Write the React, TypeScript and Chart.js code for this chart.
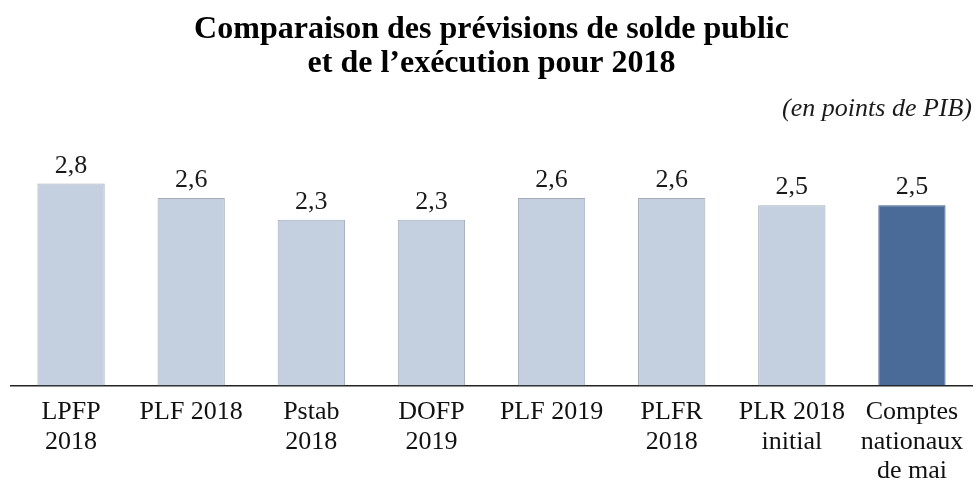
import React, { useEffect, useRef } from "react";
import { Chart, registerables } from "chart.js";

Chart.register(...registerables);

const categories: string[][] = [
  ["LPFP", "2018"],
  ["PLF 2018"],
  ["Pstab", "2018"],
  ["DOFP", "2019"],
  ["PLF 2019"],
  ["PLFR", "2018"],
  ["PLR 2018", "initial"],
  ["Comptes", "nationaux", "de mai"],
];
const values: number[] = [2.8, 2.6, 2.3, 2.3, 2.6, 2.6, 2.5, 2.5];
const valueLabels: string[] = ["2,8", "2,6", "2,3", "2,3", "2,6", "2,6", "2,5", "2,5"];
const titleLines: string[] = ["Comparaison des prévisions de solde public", "et de l’exécution pour 2018"];
const unitLabel = "(en points de PIB)";

const FONT = "'Liberation Serif', 'DejaVu Serif', serif";

const valueLabelPlugin = {
  id: "valueLabels",
  afterDatasetsDraw(chart: any) {
    const ctx = chart.ctx;
    const meta = chart.getDatasetMeta(0);
    ctx.save();
    ctx.font = `26px ${FONT}`;
    ctx.fillStyle = "#1a1a1a";
    ctx.textAlign = "center";
    ctx.textBaseline = "alphabetic";
    meta.data.forEach((bar: any, i: number) => {
      ctx.fillText(valueLabels[i], bar.x, bar.y - 11);
    });
    ctx.restore();
  },
};

export default function App() {
  const ref = useRef<HTMLCanvasElement | null>(null);
  useEffect(() => {
    document.body.style.margin = "0";
    if (!ref.current) return;
    const light = "#C4CFE0";
    const dark = "#4A6A98";
    const chart = new Chart(ref.current, {
      type: "bar",
      data: {
        labels: categories,
        datasets: [
          {
            data: values,
            backgroundColor: values.map((_, i) => (i === values.length - 1 ? dark : light)),
            borderColor: values.map((_, i) => (i === values.length - 1 ? "#415E88" : "#A3ABBA")),
            borderWidth: 1,
            borderSkipped: "bottom",
            categoryPercentage: 0.56,
            barPercentage: 1,
          },
        ],
      },
      options: {
        animation: false,
        responsive: true,
        maintainAspectRatio: false,
        layout: { padding: { left: 11, right: 5, top: 0, bottom: -13 } },
        plugins: {
          legend: { display: false },
          tooltip: { enabled: false },
          title: {
            display: true,
            text: titleLines,
            color: "#000",
            font: { family: FONT, size: 32, weight: "bold", lineHeight: 1.06 },
            padding: { top: 13, bottom: 13 },
          },
          subtitle: {
            display: true,
            text: unitLabel,
            align: "end",
            color: "#1a1a1a",
            font: { family: FONT, size: 26, style: "italic", lineHeight: 1.15 },
            padding: { top: 0, bottom: 0 },
          },
        },
        scales: {
          x: {
            grid: { display: false, drawTicks: false },
            border: { display: true, color: "#222", width: 1.5 },
            ticks: {
              color: "#111",
              font: { family: FONT, size: 26, lineHeight: 1.135 },
              padding: 12,
              autoSkip: false,
              maxRotation: 0,
              minRotation: 0,
            },
          },
          y: {
            display: false,
            min: 0,
            max: 3.63,
          },
        },
      },
      plugins: [valueLabelPlugin],
    });
    return () => chart.destroy();
  }, []);
  return (
    <div style={{ width: 977, height: 485, position: "relative" }}>
      <canvas ref={ref} />
    </div>
  );
}
